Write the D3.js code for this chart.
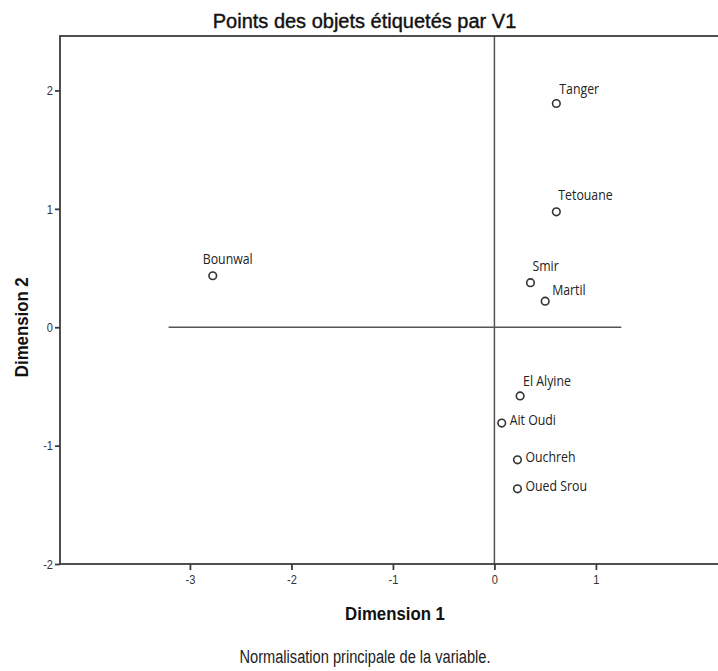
<!DOCTYPE html>
<html>
<head>
<meta charset="utf-8">
<script src="https://cdn.jsdelivr.net/npm/d3@7"></script>
<style>
  html, body { margin: 0; padding: 0; background: #fff; }
  svg { display: block; }
</style>
</head>
<body>
<svg id="chart" width="718" height="671"></svg>
<script>
// ---- data ----
const names = ["Tanger", "Tetouane", "Bounwal", "Smir", "Martil", "El Alyine", "Ait Oudi", "Ouchreh", "Oued Srou"];
const dim1 = [0.61, 0.61, -2.775, 0.355, 0.50, 0.253, 0.072, 0.227, 0.227];
const dim2 = [1.89, 0.975, 0.435, 0.376, 0.22, -0.58, -0.81, -1.12, -1.365];
const labelAnchor = ["n", "N", "nw", "N", "ne", "n", "e", "e", "e"];
const xTicks = [-3, -2, -1, 0, 1];
const yTicks = [-2, -1, 0, 1, 2];
const refLineX = [-3.21, 1.25];

const title = "Points des objets étiquetés par V1";
const xTitle = "Dimension 1";
const yTitle = "Dimension 2";
const footnote = "Normalisation principale de la variable.";

// ---- layout ----
(function () {
const svg = d3.select("#chart");
const mLeft = 60, mTop = 36, mBottom = 564;
const x = d3.scaleLinear().domain([-4.28, 2.3]).range([mLeft, mLeft + 6.58 * 101.5]);
const y = d3.scaleLinear().domain([-2, 2.46]).range([mBottom, mTop]);
const frameColor = "#3c3c3c";
const anchorOffset = { n: [3, -9.5], N: [2, -12], nw: [-10, -12], ne: [7, -6], e: [8, 2] };

// reference lines
svg.append("line")
  .attr("x1", x(0)).attr("x2", x(0))
  .attr("y1", mTop).attr("y2", mBottom)
  .attr("stroke", "#555").attr("stroke-width", 1.5);
svg.append("line")
  .attr("x1", x(refLineX[0])).attr("x2", x(refLineX[1]))
  .attr("y1", y(0)).attr("y2", y(0))
  .attr("stroke", "#555").attr("stroke-width", 1.5);

// frame
svg.append("rect")
  .attr("x", mLeft).attr("y", mTop)
  .attr("width", 760).attr("height", mBottom - mTop)
  .attr("fill", "none").attr("stroke", frameColor).attr("stroke-width", 1.8);

// axes
const fmt = d => String(d);
const xAxis = d3.axisBottom(x).tickValues(xTicks).tickSize(6).tickPadding(5).tickFormat(fmt);
const gx = svg.append("g").attr("transform", `translate(0,${mBottom})`).call(xAxis);
gx.select(".domain").remove();
gx.selectAll(".tick line").attr("stroke", frameColor).attr("stroke-width", 1.8);
gx.selectAll(".tick text").attr("font-family", "Liberation Sans, Arial, sans-serif")
  .attr("font-size", 13).attr("fill", "#333")
  .attr("transform", "scale(0.85,1)");

const yAxis = d3.axisLeft(y).tickValues(yTicks).tickSize(5).tickPadding(2).tickFormat(fmt);
const gy = svg.append("g").attr("transform", `translate(${mLeft},0)`).call(yAxis);
gy.select(".domain").remove();
gy.selectAll(".tick line").attr("stroke", frameColor).attr("stroke-width", 1.8);
gy.selectAll(".tick text").attr("font-family", "Liberation Sans, Arial, sans-serif")
  .attr("font-size", 13).attr("fill", "#333")
  .attr("x", -7 / 0.85)
  .attr("transform", "scale(0.85,1)");

// points
const pts = names.map((n, i) => ({ name: n, x: dim1[i], y: dim2[i], a: anchorOffset[labelAnchor[i]] }));
svg.append("g").selectAll("circle").data(pts).join("circle")
  .attr("cx", d => x(d.x)).attr("cy", d => y(d.y)).attr("r", 3.8)
  .attr("fill", "#fff").attr("stroke", "#333").attr("stroke-width", 1.6);

svg.append("g").selectAll("text").data(pts).join("text")
  .attr("transform", d => `translate(${x(d.x) + d.a[0]},${y(d.y) + d.a[1]}) scale(0.88,1)`)
  .attr("font-family", "Open Sans, Noto Sans, sans-serif")
  .attr("font-size", 14).attr("fill", "#222")
  .text(d => d.name);

// titles
svg.append("text").attr("x", 364.5).attr("y", 28).attr("text-anchor", "middle")
  .attr("font-family", "Liberation Sans, Arial, sans-serif").attr("font-size", 20)
  .attr("fill", "#111").attr("stroke", "#111").attr("stroke-width", 0.4)
  .text(title);
svg.append("text").attr("transform", "translate(395,620) scale(0.96,1)").attr("text-anchor", "middle")
  .attr("font-family", "Liberation Sans, Arial, sans-serif").attr("font-size", 17.5)
  .attr("font-weight", "bold").attr("fill", "#111")
  .text(xTitle);
svg.append("text").attr("transform", `translate(28,${y(0)}) rotate(-90) scale(0.96,1)`).attr("text-anchor", "middle")
  .attr("font-family", "Liberation Sans, Arial, sans-serif").attr("font-size", 17.5)
  .attr("font-weight", "bold").attr("fill", "#111")
  .text(yTitle);
svg.append("text").attr("transform", "translate(365,663) scale(0.77,1)").attr("text-anchor", "middle")
  .attr("font-family", "Liberation Sans, Arial, sans-serif").attr("font-size", 19)
  .attr("fill", "#222")
  .text(footnote);
})();
</script>
</body>
</html>
